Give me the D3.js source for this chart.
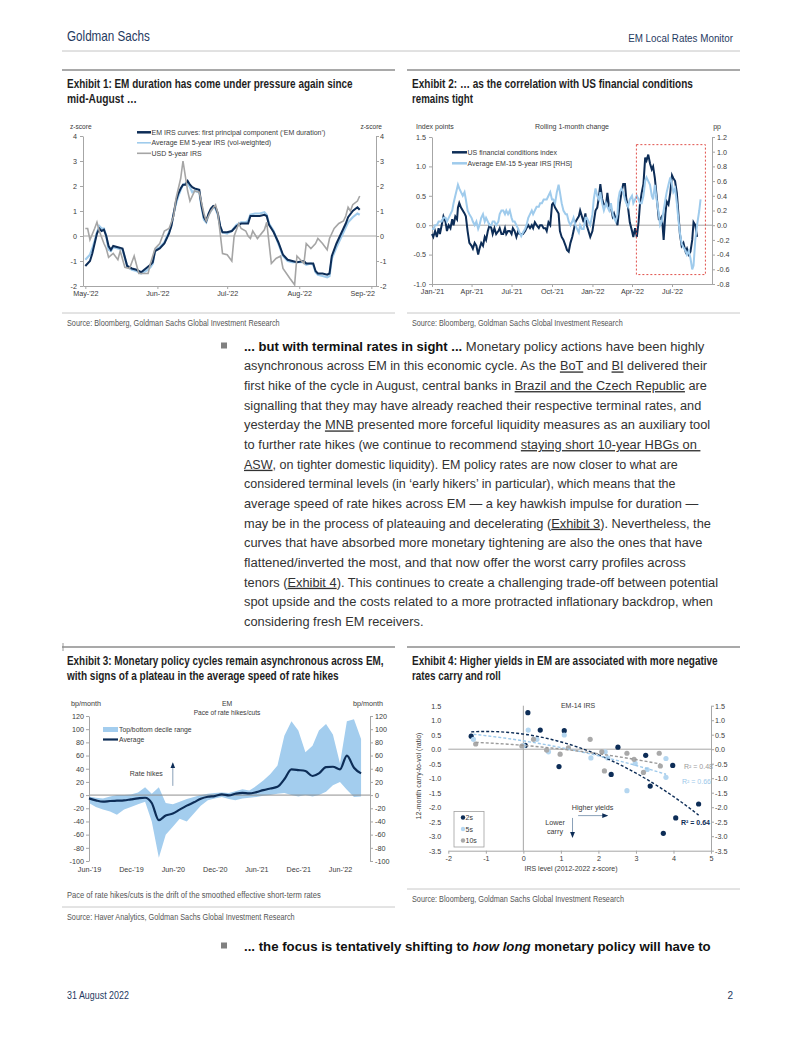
<!DOCTYPE html>
<html><head><meta charset="utf-8">
<script src="https://cdn.jsdelivr.net/npm/d3@7"></script>
<style>body{margin:0;background:#fff}svg{display:block}text{white-space:pre}</style>
</head><body>
<svg id="page" width="802" height="1037"></svg>
<script>
// ================= DATA =================
// Exhibit 1
const ex1Dates = ["2022-05-01","2022-05-03","2022-05-04","2022-05-05","2022-05-06","2022-05-07","2022-05-08","2022-05-09","2022-05-10","2022-05-11","2022-05-12","2022-05-13","2022-05-15","2022-05-17","2022-05-19","2022-05-21","2022-05-23","2022-05-25","2022-05-27","2022-05-29","2022-05-30","2022-05-31",
"2022-06-02","2022-06-04","2022-06-06","2022-06-07","2022-06-08","2022-06-09","2022-06-10","2022-06-11","2022-06-12","2022-06-13","2022-06-14","2022-06-15","2022-06-16","2022-06-17","2022-06-19","2022-06-20","2022-06-21","2022-06-22","2022-06-23","2022-06-24","2022-06-25","2022-06-26","2022-06-27","2022-06-28","2022-06-29",
"2022-07-01","2022-07-03","2022-07-05","2022-07-07","2022-07-09","2022-07-10","2022-07-11","2022-07-13","2022-07-15","2022-07-17","2022-07-18","2022-07-19","2022-07-20","2022-07-21","2022-07-23","2022-07-25","2022-07-27","2022-07-29","2022-07-31",
"2022-08-03","2022-08-04","2022-08-06","2022-08-07","2022-08-08","2022-08-09","2022-08-11","2022-08-13","2022-08-14","2022-08-15","2022-08-17","2022-08-19","2022-08-21","2022-08-22","2022-08-24","2022-08-26","2022-08-27"];
const ex1EmDuration = [-1.2,-1.0,-0.7,-0.3,0.1,0.3,0.2,0.25,0.0,-0.4,-0.55,-0.4,-0.45,-0.5,-1.2,-1.3,-1.35,-1.45,-1.3,-1.15,-1.05,-0.6,
-0.5,-0.3,0.1,0.4,0.9,1.4,1.7,1.9,2.05,2.05,2.2,2.05,1.95,1.9,1.85,1.2,0.75,0.6,0.9,1.1,1.2,1.15,0.9,0.4,0.15,
0.15,0.2,0.4,0.5,0.5,0.5,0.8,0.8,0.8,0.85,0.8,0.45,0.3,0.15,-0.25,-0.75,-0.95,-1.0,-1.05,
-1.0,-1.1,-1.1,-1.1,-1.4,-1.5,-1.5,-1.55,-1.5,-0.8,-0.3,0.1,0.5,0.75,1.0,1.15,1.05];
const ex1AvgEm5y = [-0.95,-0.75,-0.5,-0.2,0.15,0.4,0.3,0.3,0.0,-0.55,-0.6,-0.45,-0.5,-0.55,-1.2,-1.35,-1.4,-1.5,-1.4,-1.25,-1.1,-0.55,
-0.45,-0.25,0.15,0.45,0.9,1.3,1.6,1.85,2.05,2.1,2.1,1.95,1.75,1.8,1.75,1.15,0.65,0.55,0.85,1.0,1.15,1.1,0.85,0.35,0.15,
0.1,0.2,0.45,0.55,0.55,0.6,0.85,0.9,0.9,0.95,0.85,0.5,0.35,0.2,-0.3,-0.8,-1.0,-1.05,-1.05,
-1.05,-1.15,-1.1,-1.15,-1.45,-1.55,-1.6,-1.65,-1.6,-0.9,-0.45,-0.05,0.35,0.55,0.75,0.9,0.85];
const ex1UsdDates = ["2022-05-01","2022-05-02","2022-05-03","2022-05-05","2022-05-06","2022-05-07","2022-05-09","2022-05-10","2022-05-11","2022-05-13","2022-05-15","2022-05-16","2022-05-18","2022-05-20","2022-05-22","2022-05-24","2022-05-28","2022-05-29","2022-05-31",
"2022-06-02","2022-06-04","2022-06-06","2022-06-08","2022-06-09","2022-06-11","2022-06-12","2022-06-14","2022-06-15","2022-06-17","2022-06-19","2022-06-21","2022-06-22","2022-06-24","2022-06-26","2022-06-27","2022-06-29",
"2022-07-01","2022-07-03","2022-07-04","2022-07-06","2022-07-07","2022-07-09","2022-07-10","2022-07-11","2022-07-12","2022-07-14","2022-07-17","2022-07-18","2022-07-20","2022-07-22","2022-07-24","2022-07-25","2022-07-28","2022-07-30","2022-07-31",
"2022-08-01","2022-08-03","2022-08-04","2022-08-06","2022-08-08","2022-08-09","2022-08-11","2022-08-13","2022-08-14","2022-08-16","2022-08-18","2022-08-20","2022-08-21","2022-08-22","2022-08-23","2022-08-24","2022-08-26","2022-08-27"];
const ex1Usd5y = [0.3,0.3,-0.15,0.3,0.55,0.2,-0.3,-0.5,-0.85,-0.7,-0.95,-0.6,-1.25,-1.3,-0.8,-1.5,-1.5,-1.1,-0.5,
-0.3,0.2,0.3,0.8,1.5,2.3,3.0,1.8,1.4,1.8,1.75,0.9,0.6,1.0,1.25,0.9,-0.7,
-0.75,-1.0,0.0,0.5,0.3,0.2,0.0,-0.1,0.2,-0.1,0.25,0.55,-1.1,-0.9,-0.8,-1.3,-1.7,-1.95,-0.8,
-0.9,-1.1,-0.3,-0.5,-0.3,-0.1,-0.3,-0.55,-0.1,0.3,0.5,0.6,0.8,1.15,1.0,1.25,1.4,1.6];
const ex1XTicks = ["2022-05-01","2022-06-01","2022-07-01","2022-08-01","2022-09-01"];
const ex1YTicks = [-2,-1,0,1,2,3,4];
const ex1Legend = ["EM IRS curves: first principal component (\u2018EM duration\u2019)","Average EM 5-year IRS (vol-weighted)","USD 5-year IRS"];

// Exhibit 2 (sampled 8 times a month)
const ex2Months = ["2021-01","2021-02","2021-03","2021-04","2021-05","2021-06","2021-07","2021-08","2021-09","2021-10","2021-11","2021-12",
"2022-01","2022-02","2022-03","2022-04","2022-05","2022-06","2022-07","2022-08","2022-09"];
const ex2DaySlots = [1,4,8,12,16,19,23,27];
const ex2UsFci = [
-0.15,-0.2,-0.1,-0.2,-0.05,-0.15,0.0,0.15,
0.05,-0.1,0.0,-0.05,0.1,0.0,0.15,0.1,
0.3,0.38,0.3,0.25,0.2,0.15,-0.1,-0.3,
-0.35,-0.4,-0.3,-0.35,-0.5,-0.4,-0.3,-0.35,
-0.2,-0.25,-0.1,0.0,-0.05,-0.15,-0.05,-0.15,
-0.1,-0.05,-0.15,-0.15,-0.05,-0.15,-0.1,-0.1,
-0.15,-0.05,-0.1,-0.2,-0.1,-0.15,-0.15,-0.15,
-0.1,-0.05,0.0,-0.05,0.0,-0.05,0.05,0.0,
-0.05,0.0,0.0,-0.05,-0.05,-0.1,0.05,0.0,
0.35,0.38,0.3,0.25,0.2,-0.1,-0.2,-0.25,
-0.35,-0.42,-0.45,-0.3,-0.2,-0.1,0.05,0.1,
0.15,0.25,0.15,0.05,0.2,0.0,-0.1,-0.2,
-0.1,0.05,0.25,0.3,0.5,0.7,0.45,0.35,
0.35,0.55,0.3,0.3,0.15,0.2,0.1,0.0,
0.15,0.35,0.55,0.7,0.7,0.45,0.3,0.05,
-0.1,-0.2,-0.05,-0.2,0.05,0.35,0.55,0.7,
1.15,1.1,1.2,1.05,0.95,1.0,0.8,0.5,
0.1,0.1,0.15,-0.25,0.2,0.4,0.35,0.55,
0.85,0.8,0.75,0.55,0.15,-0.15,-0.35,-0.3,
-0.45,-0.4,-0.5,-0.45,-0.25,0.05,0.0,-0.2];
const ex2Em15Irs = [
-0.05,-0.05,0.0,0.0,0.05,0.05,0.05,0.1,
0.1,0.05,0.1,0.15,0.2,0.3,0.4,0.5,
0.55,0.5,0.45,0.4,0.45,0.35,0.2,0.15,
0.1,0.05,0.0,0.05,-0.05,0.0,0.1,0.15,
0.05,0.1,0.05,0.0,0.0,0.05,0.05,0.0,
0.05,0.15,0.2,0.2,0.15,0.2,0.15,0.2,
0.1,0.05,0.05,0.0,-0.05,-0.1,-0.15,-0.1,
-0.05,0.0,0.1,0.15,0.2,0.15,0.2,0.25,
0.25,0.3,0.3,0.35,0.35,0.35,0.4,0.45,
0.35,0.35,0.3,0.45,0.55,0.45,0.3,0.2,
0.15,0.15,0.05,0.0,0.05,0.1,0.0,-0.05,
-0.1,0.0,-0.05,-0.05,0.1,0.1,0.05,0.0,
0.15,0.35,0.5,0.4,0.35,0.45,0.3,0.2,
0.3,0.25,0.2,0.3,0.15,0.1,0.05,0.15,
0.35,0.45,0.5,0.45,0.35,0.3,0.25,0.35,
0.4,0.3,0.35,0.4,0.35,0.3,0.3,0.4,
0.6,0.65,0.6,0.55,0.4,0.35,0.55,0.35,
0.15,0.0,0.05,0.2,0.35,0.45,0.55,0.65,
0.55,0.45,0.5,0.3,0.05,-0.1,-0.25,-0.3,
-0.35,-0.4,-0.35,-0.45,-0.6,-0.55,-0.2,0.0,
0.2,0.35];
const ex2XTicks = ["2021-01-01","2021-04-01","2021-07-01","2021-10-01","2022-01-01","2022-04-01","2022-07-01"];
const ex2LeftTicks = [-1.0,-0.5,0.0,0.5,1.0,1.5];
const ex2RightTicks = [-0.8,-0.6,-0.4,-0.2,0.0,0.2,0.4,0.6,0.8,1.0,1.2];
const ex2Highlight = {from:"2022-04-11", to:"2022-09-15", top:1.37, bottom:-0.84};
const ex2Legend = ["US financial conditions index","Average EM-15 5-year IRS [RHS]"];

// Exhibit 3 (monthly)
const ex3Months = ["2019-06","2019-07","2019-08","2019-09","2019-10","2019-11","2019-12",
"2020-01","2020-02","2020-03","2020-04","2020-05","2020-06","2020-07","2020-08","2020-09","2020-10","2020-11","2020-12",
"2021-01","2021-02","2021-03","2021-04","2021-05","2021-06","2021-07","2021-08","2021-09","2021-10","2021-11","2021-12",
"2022-01","2022-02","2022-03","2022-04","2022-05","2022-06","2022-07","2022-08","2022-09"];
const ex3Average = [-5,-8,-10,-9,-8.5,-8,-6.5,-5,-4,-12,-38,-31,-28,-22,-16,-11,-5.5,-2.5,-1.5,1,-0.5,2,3.5,2.5,4.5,7.5,10,12.5,24,39,38,36.5,29,33,42.5,43,39,60,41.5,33];
const ex3DecileTop = [-2,-4,-5,-2,0,0,1,4,12,2,12,-12,-14,-10,-6,-3,0,2,3,4,3,6,9,7,14,22,32,45,90,112,98,65,75,98,108,92,48,112,115,85];
const ex3DecileBottom = [-12,-18,-22,-25,-30,-22,-18,-14,-10,-40,-95,-60,-48,-36,-40,-28,-16,-8,-5,-3,-6,-8,-5,-4,-3,-1,0,2,3,0,-2,0,-2,0,5,15,20,8,-3,-2];
const ex3XTicks = ["2019-06-01","2019-12-01","2020-06-01","2020-12-01","2021-06-01","2021-12-01","2022-06-01"];
const ex3YTicks = [-100,-80,-60,-40,-20,0,20,40,60,80,100,120];
const ex3Legend = ["Top/bottom decile range","Average"];

// Exhibit 4
const ex4_2sX = [-1.39,0.12,0.05,0.45,1.09,0.95,2.52,3.26,3.98,2.34,3.38,4.67,4.06,3.73];
const ex4_2sY = [0.45,1.26,0.13,0.66,0.64,-0.6,0.07,-0.21,-0.56,-0.87,-1.27,-1.89,-2.37,-2.9];
const ex4_5sX = [-1.33,0.13,0.0,0.36,0.67,1.09,2.18,2.25,2.98,2.76,3.8,3.8,3.3,1.8];
const ex4_5sY = [0.34,0.66,0.12,0.34,-0.09,0.49,-0.09,-0.3,-0.49,-1.43,-0.97,-0.32,-0.7,-0.3];
const ex4_10sX = [-1.27,-0.04,0.27,0.62,0.98,1.78,2.09,2.76,3.62,3.65,2.16,3.2,2.95,1.2];
const ex4_10sY = [0.18,0.11,0.34,-0.03,-0.17,0.34,-0.09,-0.14,-0.14,-0.58,-0.75,-0.8,-0.35,0.05];
const ex4R2 = ["R\u00b2 = 0.64","R\u00b2 = 0.66","R\u00b2 = 0.48"];
const ex4Legend = ["2s","5s","10s"];
const ex4XTicks = [-2,-1,0,1,2,3,4,5];
const ex4YTicks = [-3.5,-3.0,-2.5,-2.0,-1.5,-1.0,-0.5,0.0,0.5,1.0,1.5];

// Body text
const bodyLines = [
 [["... but with terminal rates in sight ...","b"],[" Monetary policy actions have been highly",""]],
 [["asynchronous across EM in this economic cycle. As the ",""],["BoT","u"],[" and ",""],["BI","u"],[" delivered their",""]],
 [["first hike of the cycle in August, central banks in ",""],["Brazil and the Czech Republic","u"],[" are",""]],
 [["signalling that they may have already reached their respective terminal rates, and",""]],
 [["yesterday the ",""],["MNB","u"],[" presented more forceful liquidity measures as an auxiliary tool",""]],
 [["to further rate hikes (we continue to recommend ",""],["staying short 10-year HBGs on ","u"]],
 [["ASW","u"],[", on tighter domestic liquidity). EM policy rates are now closer to what are",""]],
 [["considered terminal levels (in \u2018early hikers\u2019 in particular), which means that the",""]],
 [["average speed of rate hikes across EM \u2014 a key hawkish impulse for duration \u2014",""]],
 [["may be in the process of plateauing and decelerating (",""],["Exhibit 3","u"],["). Nevertheless, the",""]],
 [["curves that have absorbed more monetary tightening are also the ones that have",""]],
 [["flattened/inverted the most, and that now offer the worst carry profiles across",""]],
 [["tenors (",""],["Exhibit 4","u"],["). This continues to create a challenging trade-off between potential",""]],
 [["spot upside and the costs related to a more protracted inflationary backdrop, when",""]],
 [["considering fresh EM receivers.",""]]
];
const bullet2 = [["... the focus is tentatively shifting to ","b"],["how long","bi"],[" monetary policy will have to","b"]];

// ================= LAYOUT / STYLE =================
const NAVY="#0d2d57", LBLUE="#9fcbec", BAND="#a3cdee", GRAY="#a5a5a5", AX="#a6a6a6", TXT="#3a3a3a";
const FONT="'Liberation Sans', Arial, sans-serif";
const COND="'Liberation Sans Narrow','Arial Narrow','Liberation Sans',Arial,sans-serif";
const FS=7, TICK=7.2;
const parse = d3.timeParse("%Y-%m-%d");
const fmtMon = d3.timeFormat("%b-'%y");
const fmtNum = f => v => d3.format(f)(v).replace("\u2212","-");

const svg = d3.select("#page");
svg.append("rect").attr("width",802).attr("height",1037).attr("fill","#fff");
const defs = svg.append("defs");
defs.append("marker").attr("id","arr").attr("viewBox","0 0 10 10").attr("refX",8).attr("refY",5)
  .attr("markerWidth",6).attr("markerHeight",6).attr("orient","auto")
  .append("path").attr("d","M0,1 L10,5 L0,9 z").attr("fill",NAVY);

// text; when o.len is given, the text is squeezed horizontally to that width with a transform
function text(g,x,y,s,o={}){
  const t=g.append("text").attr("x",x).attr("y",y).text(s)
   .attr("font-family",o.ff||FONT).attr("font-size",o.fs||FS).attr("fill",o.fill||TXT)
   .attr("text-anchor",o.anchor||"start");
  if(o.fw) t.attr("font-weight",o.fw);
  if(o.len){
    const w=t.node().getComputedTextLength();
    t.attr("x",0).attr("y",0).attr("transform",`translate(${x},${y}) scale(${(o.len/w).toFixed(4)},1)`);
  }
  return t;
}
function line(g,x1,y1,x2,y2,c=AX,w=1,dash){
  const l=g.append("line").attr("x1",x1).attr("y1",y1).attr("x2",x2).attr("y2",y2).attr("stroke",c).attr("stroke-width",w);
  if(dash) l.attr("stroke-dasharray",dash);
  return l;
}
function styleAxis(sel,fs=TICK){
  sel.attr("font-family",null).attr("font-size",null);
  sel.selectAll("path.domain").attr("stroke",AX);
  sel.selectAll(".tick line").attr("stroke",AX);
  sel.selectAll("text").attr("font-family",FONT).attr("font-size",fs).attr("fill",TXT);
  return sel;
}

// ---------- Header / footer ----------
text(svg,67,41,"Goldman Sachs",{ff:COND,fs:14,fill:"#1f3a5f",len:83});
text(svg,733,42,"EM Local Rates Monitor",{ff:COND,fs:11,fill:"#1f3a5f",anchor:"end",len:105});
line(svg,62,51,740,51,"#c4c4c4",1);
text(svg,67,999,"31 August 2022",{ff:COND,fs:10,fill:"#1f3a5f",len:62});
text(svg,733,999,"2",{ff:COND,fs:10,fill:"#1f3a5f",anchor:"end"});
line(svg,63,643,63,651,"#9a9a9a",1);

// ---------- Titles & sources ----------
function exhibitFrame(x0,x1,sepY,t1,w1,t2,w2,ty){
  line(svg,x0,sepY,x1,sepY,"#8c8c8c",1.5);
  text(svg,x0+5,ty,t1,{ff:COND,fs:12.5,fw:"bold",fill:"#1e1e1e",len:w1});
  text(svg,x0+5,ty+15,t2,{ff:COND,fs:12.5,fw:"bold",fill:"#1e1e1e",len:w2});
}
exhibitFrame(62,395,70,"Exhibit 1: EM duration has come under pressure again since",286,"mid-August \u2026",70,88);
exhibitFrame(407,740,70,"Exhibit 2: \u2026 as the correlation with US financial conditions",281,"remains tight",61,88);
exhibitFrame(62,395,647,"Exhibit 3: Monetary policy cycles remain asynchronous across EM,",317,"with signs of a plateau in the average speed of rate hikes",272,665);
exhibitFrame(407,740,647,"Exhibit 4: Higher yields in EM are associated with more negative",306,"rates carry and roll",89,665);

line(svg,62,313,395,313,"#c8c8c8",1);
text(svg,67,325.5,"Source: Bloomberg, Goldman Sachs Global Investment Research",{ff:COND,fs:9,fill:"#555",len:213});
line(svg,407,313,740,313,"#c8c8c8",1);
text(svg,412,325.5,"Source: Bloomberg, Goldman Sachs Global Investment Research",{ff:COND,fs:9,fill:"#555",len:211});
text(svg,67,898,"Pace of rate hikes/cuts is the drift of the smoothed effective short-term rates",{ff:COND,fs:9,fill:"#555",len:254});
line(svg,62,907,395,907,"#c8c8c8",1);
text(svg,67,920,"Source: Haver Analytics, Goldman Sachs Global Investment Research",{ff:COND,fs:9,fill:"#555",len:228});
line(svg,407,889,740,889,"#c8c8c8",1);
text(svg,412,901.5,"Source: Bloomberg, Goldman Sachs Global Investment Research",{ff:COND,fs:9,fill:"#555",len:212});

// ---------- Exhibit 1 ----------
(function(){
  const g=svg.append("g");
  const x=d3.scaleTime().domain([parse("2022-04-30"),parse("2022-09-03")]).range([83,376]);
  const y=d3.scaleLinear().domain([-2,4]).range([286,136]);
  line(g,83,y(0),376,y(0),AX,1);
  styleAxis(g.append("g").attr("transform","translate(83,0)").call(d3.axisLeft(y).tickValues(ex1YTicks).tickSize(3).tickSizeOuter(0).tickPadding(3).tickFormat(fmtNum("d"))));
  styleAxis(g.append("g").attr("transform","translate(376,0)").call(d3.axisRight(y).tickValues(ex1YTicks).tickSize(3).tickSizeOuter(0).tickPadding(1).tickFormat(fmtNum("d"))));
  const xa=styleAxis(g.append("g").attr("transform","translate(0,286)").call(d3.axisBottom(x).tickValues(ex1XTicks.map(parse)).tickSize(3).tickSizeOuter(0).tickPadding(2).tickFormat(fmtMon)));
  xa.selectAll(".tick text").each(function(){
    const bb=this.getBBox(); const tx=d3.select(this.parentNode).attr("transform");
    const cx=+tx.match(/translate\(([-\d.]+)/)[1];
    if(cx+bb.width/2>375){ d3.select(this).attr("text-anchor","end").attr("x",375-cx); }
  });
  text(g,70,129,"z-score",{fs:6.6});
  text(g,382,129,"z-score",{fs:6.6,anchor:"end"});
  const mk=(dates,vals)=>dates.map((d,i)=>[parse(d),vals[i]]);
  const ln=d3.line().x(d=>x(d[0])).y(d=>y(d[1]));
  g.append("path").attr("d",ln(mk(ex1Dates,ex1AvgEm5y))).attr("fill","none").attr("stroke",LBLUE).attr("stroke-width",2.2);
  g.append("path").attr("d",ln(mk(ex1Dates,ex1EmDuration))).attr("fill","none").attr("stroke",NAVY).attr("stroke-width",2);
  g.append("path").attr("d",ln(mk(ex1UsdDates,ex1Usd5y))).attr("fill","none").attr("stroke",GRAY).attr("stroke-width",1.6);
  const cols=[NAVY,LBLUE,GRAY], ws=[2.5,1.6,1.6];
  ex1Legend.forEach((s,i)=>{
    const ly=132.3+10.5*i;
    line(g,137,ly,151,ly,cols[i],ws[i]);
    text(g,151.5,ly+2.5,s,{fs:7});
  });
})();

// ---------- Exhibit 2 ----------
(function(){
  const g=svg.append("g");
  const x=d3.scaleTime().domain([parse("2021-01-01"),parse("2022-09-30")]).range([432,712]);
  const yL=d3.scaleLinear().domain([-1,1.5]).range([284,137]);
  const yR=d3.scaleLinear().domain([-0.8,1.2]).range([284,137]);
  line(g,432,yL(0),712,yL(0),AX,1);
  styleAxis(g.append("g").attr("transform","translate(432,0)").call(d3.axisLeft(yL).tickValues(ex2LeftTicks).tickSize(3).tickSizeOuter(0).tickPadding(3).tickFormat(fmtNum(".1f"))));
  styleAxis(g.append("g").attr("transform","translate(712,0)").call(d3.axisRight(yR).tickValues(ex2RightTicks).tickSize(3).tickSizeOuter(0).tickPadding(2).tickFormat(fmtNum(".1f"))));
  styleAxis(g.append("g").attr("transform","translate(0,284)").call(d3.axisBottom(x).tickValues(ex2XTicks.map(parse)).tickSize(3).tickSizeOuter(0).tickPadding(2).tickFormat(fmtMon)));
  text(g,416,129,"Index points",{fs:7});
  text(g,572,129,"Rolling 1-month change",{fs:7,anchor:"middle"});
  text(g,721,129,"pp",{fs:7,anchor:"end"});
  const dates=ex2Months.flatMap(m=>ex2DaySlots.map(d=>parse(m+"-"+String(d).padStart(2,"0"))));
  const fci=ex2UsFci.map((v,i)=>[dates[i],v]);
  const em=ex2Em15Irs.map((v,i)=>[dates[i],v]);
  g.append("path").attr("d",d3.line().x(d=>x(d[0])).y(d=>yL(d[1]))(fci)).attr("fill","none").attr("stroke",NAVY).attr("stroke-width",2);
  g.append("path").attr("d",d3.line().x(d=>x(d[0])).y(d=>yR(d[1]))(em)).attr("fill","none").attr("stroke",LBLUE).attr("stroke-width",2);
  const h=ex2Highlight;
  g.append("rect").attr("x",x(parse(h.from))).attr("y",yL(h.top)).attr("width",x(parse(h.to))-x(parse(h.from))).attr("height",yL(h.bottom)-yL(h.top))
    .attr("fill","none").attr("stroke","#e0504a").attr("stroke-width",1).attr("stroke-dasharray","2,2");
  [NAVY,LBLUE].forEach((c,i)=>{
    const ly=152.3+11*i;
    line(g,452,ly,467,ly,c,2.5);
    text(g,467.5,ly+2.5,ex2Legend[i],{fs:7});
  });
})();

// ---------- Exhibit 3 ----------
(function(){
  const g=svg.append("g");
  const x=d3.scaleTime().domain([parse("2019-06-01"),parse("2022-10-10")]).range([89,370]);
  const y=d3.scaleLinear().domain([-100,120]).range([861,716]);
  const rows=ex3Months.map((m,i)=>({d:parse(m+"-01"),avg:ex3Average[i],top:ex3DecileTop[i],bot:ex3DecileBottom[i]}));
  g.append("path").attr("d",d3.area().x(d=>x(d.d)).y0(d=>y(d.bot)).y1(d=>y(d.top))(rows)).attr("fill",BAND);
  line(g,89,y(0),370,y(0),"#8f8f8f",1);
  styleAxis(g.append("g").attr("transform","translate(89,0)").call(d3.axisLeft(y).tickValues(ex3YTicks).tickSize(3).tickSizeOuter(0).tickPadding(2).tickFormat(fmtNum("d"))));
  styleAxis(g.append("g").attr("transform","translate(370,0)").call(d3.axisRight(y).tickValues(ex3YTicks).tickSize(3).tickSizeOuter(0).tickPadding(2).tickFormat(fmtNum("d"))));
  const xa=styleAxis(g.append("g").attr("transform",`translate(0,${y(-100)})`).call(d3.axisBottom(x).tickValues(ex3XTicks.map(parse)).tickSize(0).tickPadding(6).tickFormat(fmtMon)));
  xa.select("path.domain").remove();
  g.append("path").attr("d",d3.line().curve(d3.curveMonotoneX).x(d=>x(d.d)).y(d=>y(d.avg))(rows)).attr("fill","none").attr("stroke",NAVY).attr("stroke-width",2.2);
  text(g,71,706,"bp/month",{fs:7.2});
  text(g,383,706,"bp/month",{fs:7.2,anchor:"end"});
  text(g,227,706,"EM",{fs:6.8,anchor:"middle"});
  text(g,227,714.5,"Pace of rate hikes/cuts",{fs:6.6,anchor:"middle"});
  g.append("rect").attr("x",103).attr("y",727).attr("width",15).attr("height",5).attr("fill",BAND);
  text(g,119,731.8,ex3Legend[0],{fs:6.8});
  line(g,103,739.5,118,739.5,NAVY,2.2);
  text(g,119,742,ex3Legend[1],{fs:6.8});
  const ad=parse("2020-06-01");
  text(g,x(ad)-10,775.5,"Rate hikes",{fs:7,anchor:"end"});
  line(g,x(ad),y(14),x(ad),y(48),"#8aa0b8",1).attr("marker-end","url(#arr)");
})();

// ---------- Exhibit 4 ----------
(function(){
  const g=svg.append("g");
  const x=d3.scaleLinear().domain([-2,5]).range([448.3,711]);
  const y=d3.scaleLinear().domain([-3.5,1.5]).range([850.7,705.7]);
  line(g,x(-2),y(0),x(5),y(0),AX,1);
  line(g,x(0),y(1.5),x(0),y(-3.5),AX,1);
  const la=styleAxis(g.append("g").attr("transform",`translate(${x(-2)},0)`).call(d3.axisLeft(y).tickValues(ex4YTicks).tickSize(0).tickPadding(7).tickFormat(fmtNum(".1f"))));
  la.select("path.domain").remove();
  styleAxis(g.append("g").attr("transform",`translate(${x(5)},0)`).call(d3.axisRight(y).tickValues(ex4YTicks).tickSize(3).tickSizeOuter(0).tickPadding(1).tickFormat(fmtNum(".1f"))));
  styleAxis(g.append("g").attr("transform",`translate(0,${y(-3.5)})`).call(d3.axisBottom(x).tickValues(ex4XTicks).tickSize(3).tickSizeOuter(0).tickPadding(2).tickFormat(fmtNum("d"))));
  text(g,578,708,"EM-14 IRS",{fs:7,anchor:"middle"});
  text(g,571,871,"IRS level (2012-2022 z-score)",{fs:7,anchor:"middle"});
  text(g,0,0,"12-month carry-to-vol (ratio)",{fs:7,anchor:"middle"}).attr("transform","translate(421,776) rotate(-90)");
  const series=[
    {xs:ex4_2sX,ys:ex4_2sY,c:NAVY},
    {xs:ex4_5sX,ys:ex4_5sY,c:"#b4d6f0"},
    {xs:ex4_10sX,ys:ex4_10sY,c:"#a9a9a9"}];
  series.forEach(s=>{
    g.append("g").selectAll("circle").data(s.xs.map((v,i)=>[v,s.ys[i]])).join("circle")
      .attr("cx",d=>x(d[0])).attr("cy",d=>y(d[1])).attr("r",2.6).attr("fill",s.c);
  });
  function quadFit(xs,ys){
    let S=[0,0,0,0,0],T=[0,0,0];
    xs.forEach((v,i)=>{let p=1;for(let k=0;k<5;k++){S[k]+=p;if(k<3)T[k]+=p*ys[i];p*=v;}});
    const A=[[S[0],S[1],S[2],T[0]],[S[1],S[2],S[3],T[1]],[S[2],S[3],S[4],T[2]]];
    for(let i=0;i<3;i++){for(let j=i+1;j<3;j++){const f=A[j][i]/A[i][i];for(let k=i;k<4;k++)A[j][k]-=f*A[i][k];}}
    const c=[0,0,0];
    for(let i=2;i>=0;i--){let s=A[i][3];for(let k=i+1;k<3;k++)s-=A[i][k]*c[k];c[i]=s/A[i][i];}
    return v=>c[0]+c[1]*v+c[2]*v*v;
  }
  const trendCols=[NAVY,"#9cc8ea","#9a9a9a"];
  series.forEach((s,i)=>{
    const f=quadFit(s.xs,s.ys);
    const ext=d3.extent(s.xs);
    const pts=d3.range(0,41).map(k=>ext[0]+(ext[1]-ext[0])*k/40);
    g.append("path").attr("d",d3.line().x(v=>x(v)).y(v=>y(f(v)))(pts)).attr("fill","none")
      .attr("stroke",trendCols[i]).attr("stroke-width",1.4).attr("stroke-dasharray","3,2");
  });
  text(g,681,825,ex4R2[0],{fs:7,fill:NAVY,fw:"bold"});
  text(g,682,784,ex4R2[1],{fs:7,fill:"#9cc8ea"});
  text(g,684,768.5,ex4R2[2],{fs:7,fill:"#9a9a9a"});
  g.append("rect").attr("x",454).attr("y",811.5).attr("width",30).attr("height",35.5).attr("fill","#fff").attr("stroke","#a0a0a0").attr("stroke-width",0.8);
  series.forEach((s,i)=>{
    const ly=817.5+11.5*i;
    g.append("circle").attr("cx",463).attr("cy",ly).attr("r",2.2).attr("fill",s.c);
    text(g,465.5,ly+2.5,ex4Legend[i],{fs:7});
  });
  text(g,592.5,810,"Higher yields",{fs:7.2,anchor:"middle"});
  line(g,x(1.46),y(-2.29),x(2.23),y(-2.29),"#8aa0b8",1).attr("marker-end","url(#arr)");
  text(g,555,824.5,"Lower",{fs:7.2,anchor:"middle"});
  text(g,555,833.5,"carry",{fs:7.2,anchor:"middle"});
  line(g,x(1.31),y(-2.37),x(1.31),y(-3.02),"#8aa0b8",1).attr("marker-end","url(#arr)");
})();

// ---------- Body text ----------
(function(){
  const g=svg.append("g");
  const ends=[705,707,707,701.5,710.7,700.5,677.5,676,699,711.7,703,686,718.5,713.4,423.6];
  const x0=244;
  function fitLine(segs,yy,target,color){
    const t=g.append("text").attr("x",0).attr("y",0)
      .attr("font-family",FONT).attr("font-size",13.5).attr("fill",color);
    segs.forEach(([s,st])=>{
      const sp=t.append("tspan").text(s);
      if(st.includes("b")) sp.attr("font-weight","bold").attr("fill","#111");
      if(st.includes("i")) sp.attr("font-style","italic");
      if(st.includes("u")) sp.attr("text-decoration","underline");
    });
    const w=t.node().getComputedTextLength();
    t.attr("transform",`translate(${x0},${yy}) scale(${(target/w).toFixed(4)},1)`);
  }
  g.append("rect").attr("x",221).attr("y",342.5).attr("width",6).attr("height",6).attr("fill","#808080");
  bodyLines.forEach((segs,i)=>fitLine(segs,345.7+19.67*i+5,ends[i]-x0,"#333"));
  g.append("rect").attr("x",221).attr("y",942.5).attr("width",6).attr("height",6).attr("fill","#808080");
  fitLine(bullet2,950.5,467,"#111");
})();
</script>
</body></html>
